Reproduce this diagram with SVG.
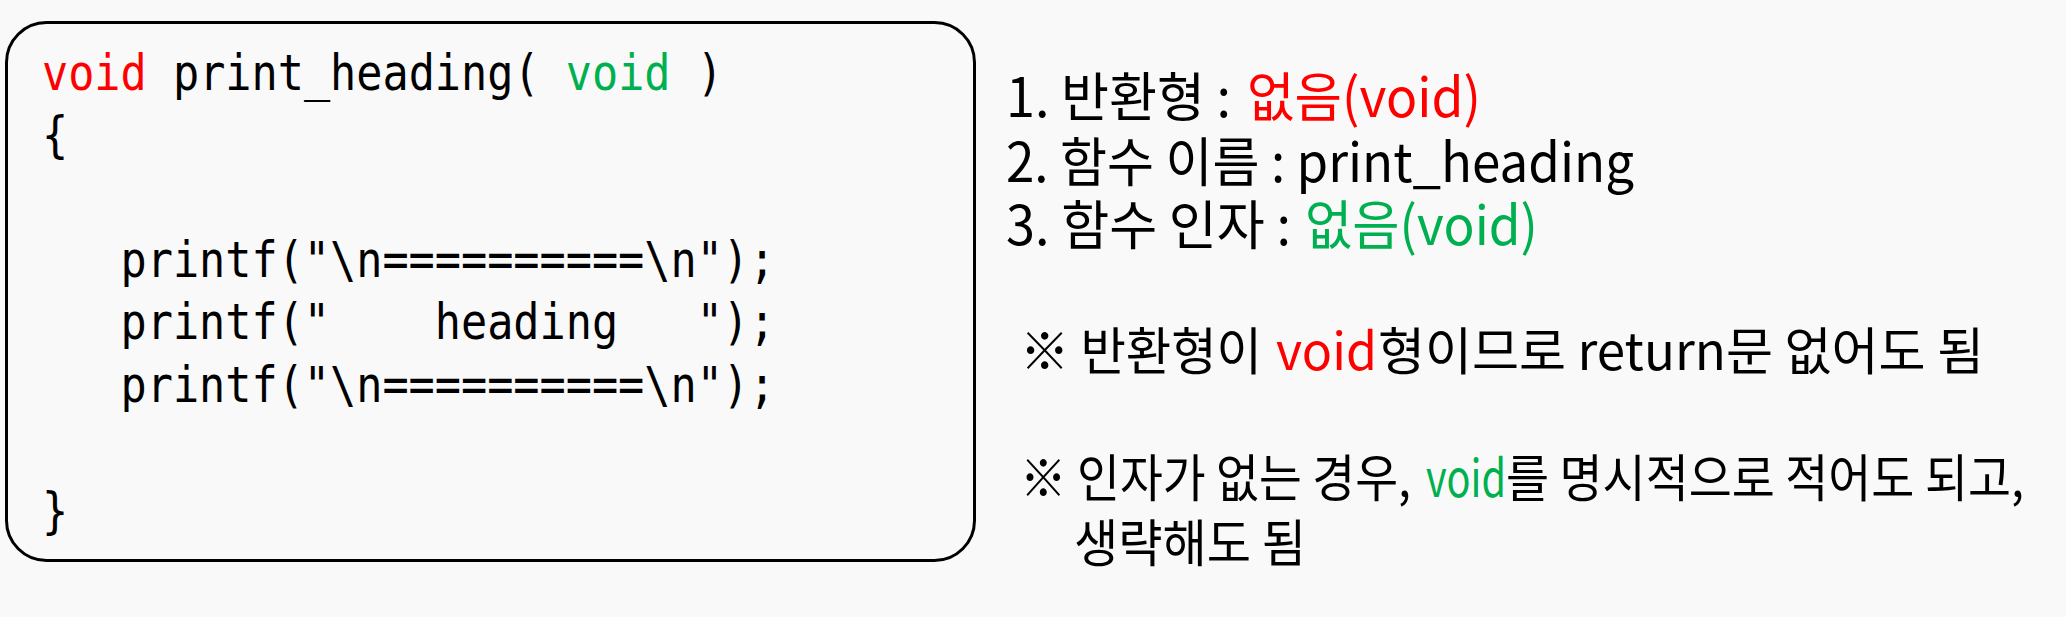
<svg xmlns="http://www.w3.org/2000/svg" width="2066" height="617" viewBox="0 0 2066 617">
<style>
.bg{fill:#f9f9f9}
.box{fill:#f9f9f9;stroke:#000;stroke-width:3}
.code{font-family:"DejaVu Sans Mono","Liberation Mono",monospace;font-size:50px;fill:#000}
.kr{font-family:"Noto Sans CJK KR","Noto Sans",sans-serif;fill:#000}
.l{font-size:47.5px}
.n{font-size:45px}
.red{fill:#ff0000}
.grn{fill:#00b050}
</style>
<rect class="bg" x="0" y="0" width="2066" height="617"/>
<g id="code-box">
<rect class="box" x="6.5" y="22.5" width="968" height="538" rx="40" ry="40"/>
<g transform="translate(42,0) scale(0.87,1)">
<text class="code" x="0" y="90" xml:space="preserve"><tspan class="red">void</tspan> print_heading( <tspan class="grn">void</tspan> )</text>
<text class="code" x="0" y="152" xml:space="preserve">{</text>
<text class="code" x="0" y="277" xml:space="preserve">   printf("\n==========\n");</text>
<text class="code" x="0" y="339" xml:space="preserve">   printf("    heading   ");</text>
<text class="code" x="0" y="402" xml:space="preserve">   printf("\n==========\n");</text>
<text class="code" x="0" y="528" xml:space="preserve">}</text>
</g>
</g>
<g id="summary">
<text class="kr l" transform="translate(1006,117) scale(1,1.136)" x="0" y="0" textLength="225" lengthAdjust="spacingAndGlyphs">1. 반환형 :</text>
<text class="kr l red" transform="translate(1247,117) scale(1,1.136)" x="0" y="0" textLength="234" lengthAdjust="spacingAndGlyphs">없음(void)</text>
<text class="kr l" transform="translate(1006,182) scale(1,1.136)" x="0" y="0" textLength="628" lengthAdjust="spacingAndGlyphs">2. 함수 이름 : print_heading</text>
<text class="kr l" transform="translate(1006,245) scale(1,1.136)" x="0" y="0" textLength="285" lengthAdjust="spacingAndGlyphs">3. 함수 인자 :</text>
<text class="kr l grn" transform="translate(1305,245) scale(1,1.136)" x="0" y="0" textLength="233" lengthAdjust="spacingAndGlyphs">없음(void)</text>
</g>
<g id="notes">
<text class="kr n" transform="translate(1020,370) scale(1,1.136)" x="0" y="0" textLength="242" lengthAdjust="spacingAndGlyphs">※ 반환형이</text>
<text class="kr n red" transform="translate(1276,370) scale(1,1.136)" x="0" y="0" textLength="101" lengthAdjust="spacingAndGlyphs">void</text>
<text class="kr n" transform="translate(1378,370) scale(1,1.136)" x="0" y="0" textLength="606" lengthAdjust="spacingAndGlyphs">형이므로 return문 없어도 됨</text>
<text class="kr n" transform="translate(1020,497) scale(1,1.136)" x="0" y="0" textLength="391" lengthAdjust="spacingAndGlyphs">※ 인자가 없는 경우,</text>
<text class="kr n grn" transform="translate(1426,497) scale(1,1.136)" x="0" y="0" textLength="80" lengthAdjust="spacingAndGlyphs">void</text>
<text class="kr n" transform="translate(1506,497) scale(1,1.136)" x="0" y="0" textLength="518" lengthAdjust="spacingAndGlyphs">를 명시적으로 적어도 되고,</text>
<text class="kr n" transform="translate(1074,562) scale(1,1.136)" x="0" y="0" textLength="232" lengthAdjust="spacingAndGlyphs">생략해도 됨</text>
</g>
<g id="connectors"/>
</svg>
